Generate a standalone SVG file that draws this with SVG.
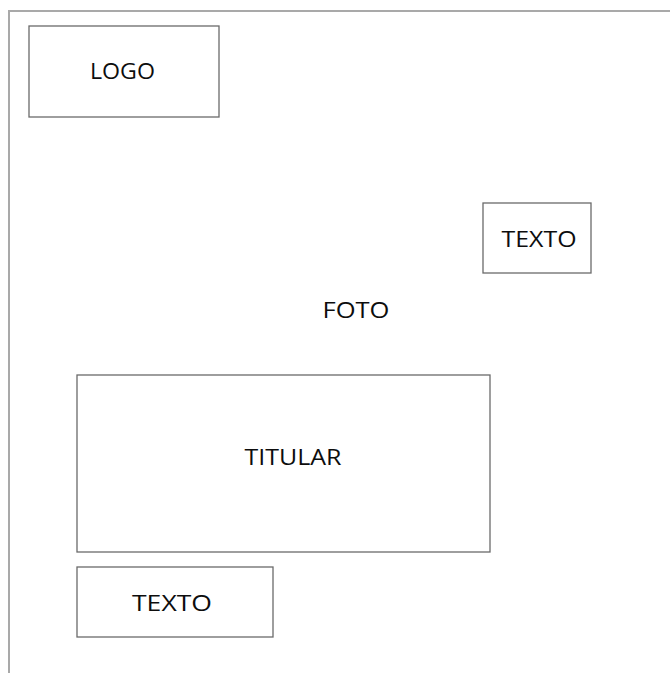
<svg xmlns="http://www.w3.org/2000/svg" width="670" height="673" viewBox="0 0 670 673">
  <style>
    .frame { fill: none; stroke: #a9a9a9; stroke-width: 2; }
    .box { fill: #ffffff; stroke: #6a6a6a; stroke-width: 1.3; }
    .label { font-family: "Open Sans", "Liberation Sans", sans-serif; font-size: 22.5px; fill: #0d0d0d; text-anchor: middle; }
  </style>
  <rect width="670" height="673" fill="#ffffff"/>
  <!-- page frame: top and left edges -->
  <path class="frame" d="M670 11 H9 V673"/>
  <g id="logo">
    <rect class="box" x="29" y="26" width="190" height="91"/>
    <text class="label" x="122.5" y="79" textLength="65" lengthAdjust="spacingAndGlyphs">LOGO</text>
  </g>
  <g id="texto-top">
    <rect class="box" x="483" y="203" width="108" height="70"/>
    <text class="label" x="539" y="247" textLength="75" lengthAdjust="spacingAndGlyphs">TEXTO</text>
  </g>
  <g id="foto">
    <text class="label" x="356" y="318" textLength="67" lengthAdjust="spacingAndGlyphs">FOTO</text>
  </g>
  <g id="titular">
    <rect class="box" x="77" y="375" width="413" height="177"/>
    <text class="label" x="293" y="465" textLength="97" lengthAdjust="spacingAndGlyphs">TITULAR</text>
  </g>
  <g id="texto-bottom">
    <rect class="box" x="77" y="567" width="196" height="70"/>
    <text class="label" x="172" y="611" textLength="80" lengthAdjust="spacingAndGlyphs">TEXTO</text>
  </g>
  <g id="connectors"/>
</svg>
